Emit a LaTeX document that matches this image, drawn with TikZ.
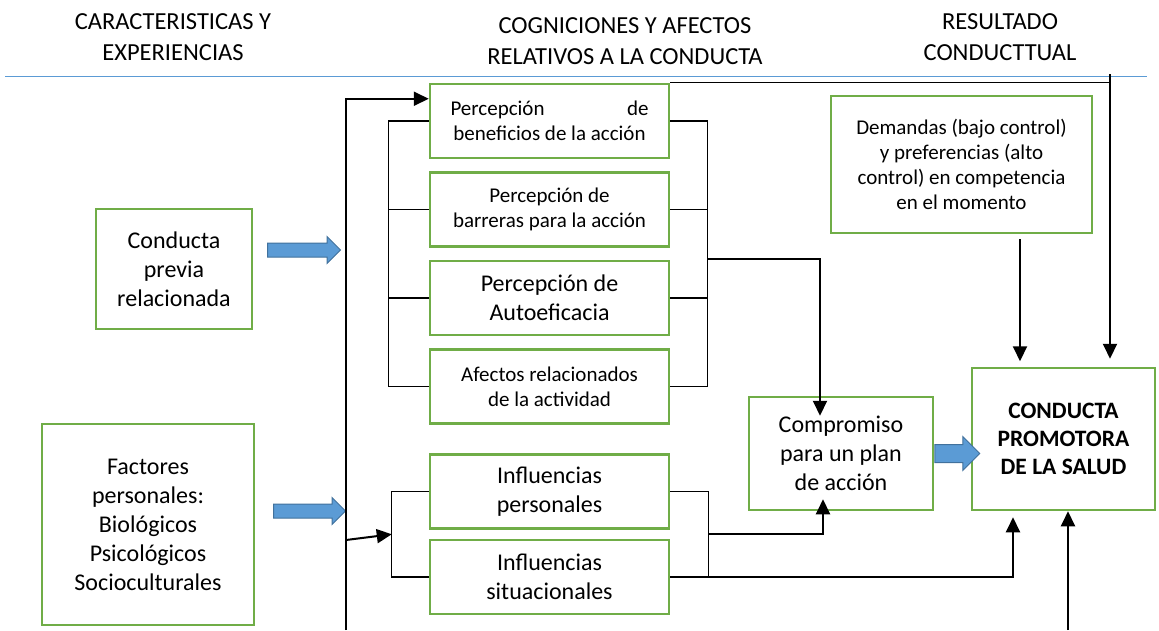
\documentclass[tikz,border=0pt]{standalone}
\usepackage{fontspec}
\setmainfont{Carlito}
\usepackage{tikz}
\usetikzlibrary{positioning,calc,arrows.meta,shapes.arrows}

\definecolor{verde}{RGB}{112,173,71}
\definecolor{azul}{RGB}{91,155,213}
\definecolor{azulborde}{RGB}{65,113,156}

\begin{document}
\begin{tikzpicture} [x=1pt, y=-1pt, node distance=88.5pt,
                    caja/.style={draw=verde,line width=2.5pt,inner sep=0pt,align=center},
                    chica/.style={font=\fontsize{21}{25}\selectfont},
                    grande/.style={font=\fontsize{24}{29}\selectfont},
                    titulo/.style={align=center,font=\fontsize{24.5}{31}\selectfont},
                    flecha/.style={single arrow,draw=azulborde,fill=azul,line width=1pt,
                      inner sep=6.5pt,single arrow head extend=6.5pt,minimum width=0pt},
                    conector/.style={line width=2pt,-{Triangle[length=15pt,width=14pt]}},
                    rama/.style={line width=1.2pt}]
\useasboundingbox (0,0) rectangle (1159,630);

% encabezados
\node[titulo] (t1) at (173,37) {CARACTERISTICAS Y\\EXPERIENCIAS};
\node[titulo] (t2) at (625,41) {COGNICIONES Y AFECTOS\\RELATIVOS A LA CONDUCTA};
\node[titulo] (t3) at (1000,37) {RESULTADO\\CONDUCTTUAL};
\draw[azul,line width=1pt] (5,76) -- (1147,76);

% cajas
\node[caja,grande,minimum width=156pt,minimum height=120pt] (1) at (174,269) {Conducta\\previa\\relacionada};
\node[caja,grande,minimum width=212pt,minimum height=201pt] (2) at (148,524.5) {Factores\\personales:\\Biológicos\\Psicológicos\\Socioculturales};
\node[caja,chica,minimum width=239pt,minimum height=74pt] (3) at (549.5,121) {\hbox to 198pt{Percepción\hfil de}\\beneficios de la acción};
\node[caja,chica,minimum width=239pt,minimum height=74pt] (4) [below of=3] {Percepción de\\barreras para la acción};
\node[caja,grande,minimum width=239pt,minimum height=74pt] (5) [below of=4] {Percepción de\\Autoeficacia};
\node[caja,chica,minimum width=239pt,minimum height=74pt] (6) [below of=5] {Afectos relacionados\\de la actividad};
\node[caja,grande,minimum width=239pt,minimum height=74pt] (7) at (549.5,491.5) {Influencias\\personales};
\node[caja,grande,minimum width=239pt,minimum height=74pt] (8) [below of=7, node distance=85.5pt] {Influencias\\situacionales};
\node[caja,grande,minimum width=184pt,minimum height=113pt] (9) at (841,453.5) {Compromiso\\para un plan\\de acción};
\node[caja,chica,minimum width=261pt,minimum height=137pt] (10) at (961.5,164.5) {Demandas (bajo control)\\y preferencias (alto\\control) en competencia\\en el momento};
\node[caja,minimum width=183pt,minimum height=142pt,font=\fontsize{23.5}{28}\selectfont\bfseries] (11) at (1063.5,439) {CONDUCTA\\PROMOTORA\\DE LA SALUD};

% flechas azules
\node[flecha,minimum height=73pt] (f1) at (300.5,250) {};
\node[flecha,minimum height=72pt] (f2) at (306,511) {};
\node[flecha,minimum height=45pt,inner sep=8.5pt,single arrow head extend=8pt] (f3) [right=0pt of 9] {};

% linea principal
\coordinate (m0) at (346,630);
\coordinate (m1) at (346,540);
\draw[conector] (m0) |- ([yshift=-16pt]3.north west);
\draw[conector] (m1) -- ($(7.west)!0.5!(8.west)+(-37,0)$);

% corchetes
\draw[rama] (3.west) -- ++(-40,0) coordinate (i1) -- (i1 |- 6.west) -- (6.west);
\draw[rama] (4.west) -- (4.west -| i1);
\draw[rama] (5.west) -- (5.west -| i1);
\draw[rama] (3.east) -- ++(37,0) coordinate (d1) -- (d1 |- 6.east) -- (6.east);
\draw[rama] (4.east) -- (4.east -| d1);
\draw[rama] (5.east) -- (5.east -| d1);
\draw[rama] (7.west) -- ++(-37,0) coordinate (i2) -- (i2 |- 8.west) -- (8.west);
\draw[rama] (7.east) -- ++(38,0) coordinate (d2) -- (d2 |- 8.east) -- (8.east);

% hacia el compromiso y la conducta
\draw[conector] (d1 |- 0,259) -| ([xshift=-21pt,yshift=-20pt]9.north);
\draw[conector] ($(d2)!0.5!(d2 |- 8.east)$) -| ([xshift=-18pt,yshift=12pt]9.south);
\draw[conector] (d2 |- 8.east) -| ([xshift=-50.5pt,yshift=-6pt]11.south);
\coordinate (m2) at (1068,630);
\draw[conector] (m2) -- (m2 |- 11.south);
\draw[conector] ([xshift=58.5pt,yshift=-5pt]10.south) -- ++(0,122);
\coordinate (r0) at (1110,74);
\draw[rama] (3.north east) -- (3.north east -| r0);
\draw[conector] (r0) -- ([yshift=8pt]11.north -| r0);
\end{tikzpicture}
\end{document}
